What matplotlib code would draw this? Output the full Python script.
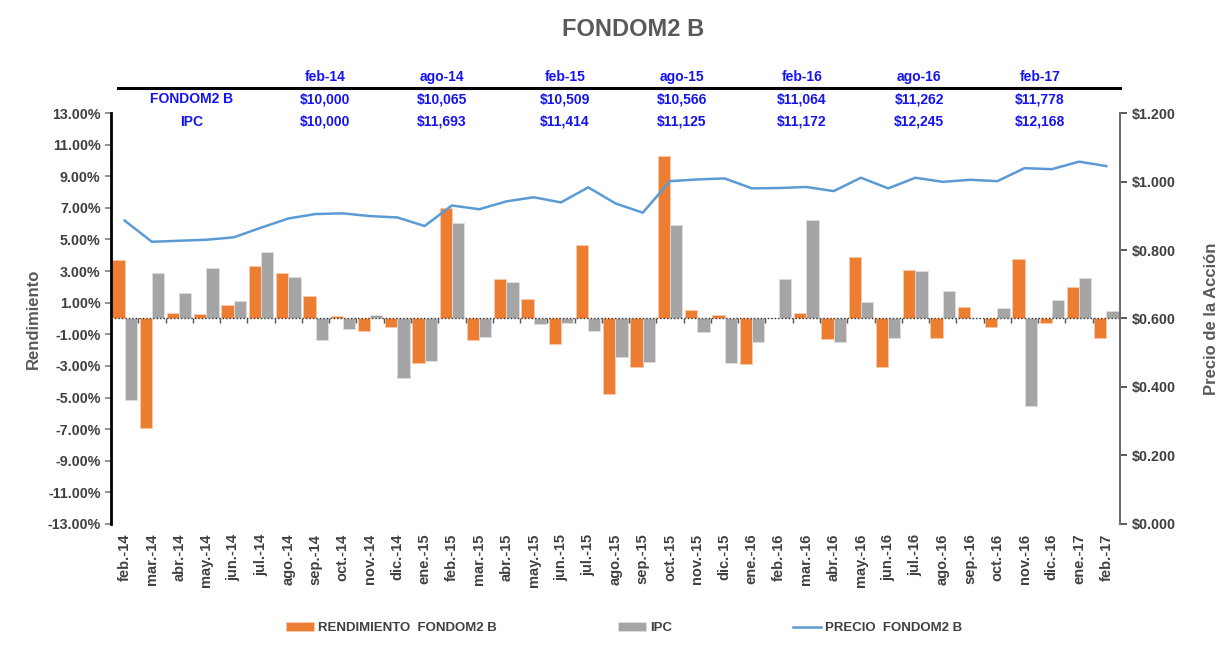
import numpy as np
import matplotlib
matplotlib.use("Agg")
import matplotlib.pyplot as plt
from matplotlib.ticker import FuncFormatter

# ----------------------------------
# DATA
# ----------------------------------

months = [
    "feb.-14", "mar.-14", "abr.-14", "may.-14", "jun.-14", "jul.-14",
    "ago.-14", "sep.-14", "oct.-14", "nov.-14", "dic.-14", "ene.-15",
    "feb.-15", "mar.-15", "abr.-15", "may.-15", "jun.-15", "jul.-15",
    "ago.-15", "sep.-15", "oct.-15", "nov.-15", "dic.-15", "ene.-16",
    "feb.-16", "mar.-16", "abr.-16", "may.-16", "jun.-16", "jul.-16",
    "ago.-16", "sep.-16", "oct.-16", "nov.-16", "dic.-16", "ene.-17",
    "feb.-17",
]

rendimiento = [
    3.70, -6.90, 0.33, 0.28, 0.85, 3.34,
    2.86, 1.45, 0.16, -0.79, -0.52, -2.84,
    7.00, -1.36, 2.48, 1.21, -1.59, 4.65,
    -4.76, -3.05, 10.28, 0.54, 0.20, -2.90,
    0.02, 0.37, -1.30, 3.91, -3.05, 3.05,
    -1.26, 0.73, -0.52, 3.75, -0.30, 1.99,
    -1.26,
]

ipc = [
    -5.15, 2.86, 1.60, 3.18, 1.13, 4.23,
    2.65, -1.36, -0.68, 0.20, -3.75, -2.71,
    6.07, -1.15, 2.29, -0.35, -0.26, -0.77,
    -2.46, -2.73, 5.92, -0.87, -2.80, -1.47,
    2.50, 6.20, -1.47, 1.03, -1.21, 2.99,
    1.72, 0.02, 0.64, -5.52, 1.15, 2.54,
    0.50,
]

precio = [
    0.886, 0.824, 0.827, 0.830, 0.837, 0.865,
    0.892, 0.905, 0.907, 0.899, 0.895, 0.870,
    0.930, 0.919, 0.942, 0.954, 0.939, 0.983,
    0.936, 0.909, 1.001, 1.006, 1.009, 0.980,
    0.981, 0.984, 0.972, 1.011, 0.980, 1.011,
    0.999, 1.005, 1.001, 1.039, 1.036, 1.058,
    1.045,
]

table_periods = ["feb-14", "ago-14", "feb-15", "ago-15", "feb-16", "ago-16", "feb-17"]
table_fondo = ["$10,000", "$10,065", "$10,509", "$10,566", "$11,064", "$11,262", "$11,778"]
table_ipc = ["$10,000", "$11,693", "$11,414", "$11,125", "$11,172", "$12,245", "$12,168"]

# ----------------------------------
# STYLE
# ----------------------------------

orange = "#ED7D31"
grey = "#A5A5A5"
blue = "#5B9BD5"
txt = "#404040"
table_blue = "#1414F0"

plt.rcParams["font.family"] = ["Liberation Sans", "DejaVu Sans"]

# ----------------------------------
# PLOT
# ----------------------------------

fig = plt.figure(figsize=(12.17, 6.54), dpi=100)
ax = fig.add_axes([0.0912, 0.1988, 0.8291, 0.6284])
ax2 = ax.twinx()

x = np.arange(len(months))
w = 0.45

ax.bar(x - w / 2, rendimiento, width=w, color=orange,
       edgecolor="#F8CBAD", linewidth=0.6,
       label="RENDIMIENTO  FONDOM2 B", zorder=2)
ax.bar(x + w / 2, ipc, width=w, color=grey,
       edgecolor="#DDDDDD", linewidth=0.6,
       label="IPC", zorder=2)
ax.axhline(0, color="#333333", linestyle=(0, (1, 1.5)), linewidth=1.0, zorder=3)
# small category separators on the zero line
ax.vlines(x[:-1] + 0.5, -0.3, 0, color="#555555", linewidth=1.0, zorder=3)

ax2.plot(x, precio, color=blue, linewidth=1.8,
         label="PRECIO  FONDOM2 B")

ax.set_xlim(-0.5, len(months) - 0.5)
ax.set_ylim(-13, 13)
ax.set_yticks(np.arange(-13, 14, 2))
ax.yaxis.set_major_formatter(FuncFormatter(lambda v, p: f"{v:.2f}%"))

ax2.set_ylim(0, 1.2)
ax2.set_yticks(np.arange(0, 1.21, 0.2))
ax2.yaxis.set_major_formatter(FuncFormatter(lambda v, p: f"${v:.3f}"))

ax.set_xticks(x)
ax.set_xticklabels(months, rotation=90, fontsize=10.5,
                   fontweight="bold", color=txt)
ax.tick_params(axis="x", length=0, pad=7)

for t in ax.get_yticklabels() + ax2.get_yticklabels():
    t.set_fontweight("bold")
    t.set_fontsize(10.3)
    t.set_color(txt)

ax.tick_params(axis="y", length=4, color="#7F7F7F", width=1.2)
ax2.tick_params(axis="y", length=5, color="#404040", width=1.2)

for side in ["top", "bottom"]:
    ax.spines[side].set_visible(False)
    ax2.spines[side].set_visible(False)
ax.spines["right"].set_visible(False)
ax2.spines["left"].set_visible(False)
ax.spines["left"].set_color("black")
ax.spines["left"].set_linewidth(2)
ax2.spines["right"].set_color("#6F6F6F")
ax2.spines["right"].set_linewidth(1.5)

ax.set_ylabel("Rendimiento", fontsize=12, fontweight="bold",
              color="#595959", labelpad=5)
ax2.set_ylabel("Precio de la Acción", fontsize=12, fontweight="bold",
               color="#595959", labelpad=20)

fig.text(0.52, 0.955, "FONDOM2 B", ha="center", va="center",
         fontsize=17, fontweight="bold", color="#595959")

# ----------------------------------
# TABLE
# ----------------------------------

col_x = [325, 442, 565, 682, 802, 919, 1040]
W, H = 1217, 654

for cx, per, f, i in zip(col_x, table_periods, table_fondo, table_ipc):
    for yy, s in [(77, per), (99, f), (122, i)]:
        fig.text(cx / W, 1 - yy / H, s, ha="center", va="center",
                 fontsize=10, fontweight="bold", color=table_blue)

fig.text(192 / W, 1 - 99 / H, "FONDOM2 B", ha="center", va="center",
         fontsize=10, fontweight="bold", color=table_blue)
fig.text(192 / W, 1 - 122 / H, "IPC", ha="center", va="center",
         fontsize=10, fontweight="bold", color=table_blue)

fig.add_artist(plt.Line2D([118 / W, 1120 / W], [1 - 88 / H, 1 - 88 / H],
                          color="black", linewidth=2.2))

# ----------------------------------
# LEGEND
# ----------------------------------

h1, l1 = ax.get_legend_handles_labels()
h2, l2 = ax2.get_legend_handles_labels()
leg = fig.legend(h1 + h2, l1 + l2, loc="center", ncol=3,
                 bbox_to_anchor=(0.513, 1 - 628 / H), frameon=False,
                 columnspacing=9.2, handlelength=2.1, handletextpad=0.3,
                 prop={"weight": "bold", "size": 9.5})
for t in leg.get_texts():
    t.set_color(txt)

fig.savefig("out.png", dpi=100)
